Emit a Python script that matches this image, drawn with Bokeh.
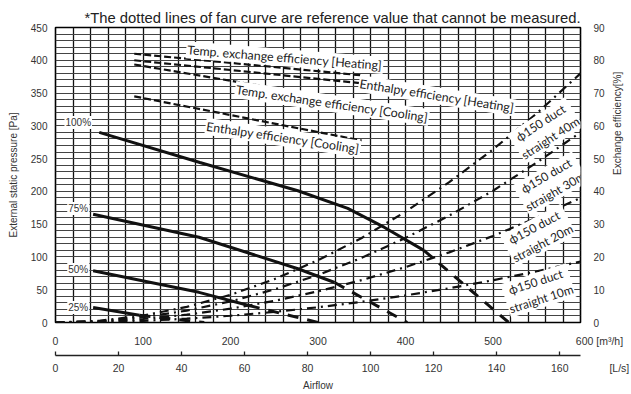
import math
from bokeh.plotting import figure
from bokeh.models import Range1d, LinearAxis, FixedTicker, Label
from bokeh.embed import file_html
from bokeh.resources import INLINE

# ---------------- data ----------------
# fan curves, external static pressure [Pa] vs airflow [m3/h]
fan100_x = [50, 165, 277, 334, 376, 421]
fan100_y = [290, 244, 201, 174, 145, 110]
fan100_ext_x = [421, 518]
fan100_ext_y = [110, 0]

fan75_x = [43, 164, 277, 319]
fan75_y = [165, 130, 82, 61]
fan75_ext_x = [319, 402]
fan75_ext_y = [61, 0]

fan50_x = [43, 164, 221]
fan50_y = [79, 46, 26]
fan50_ext_x = [221, 300]
fan50_ext_y = [26, 0]

fan25_x = [43, 96]
fan25_y = [23, 11]
fan25_ext_x = [96, 170]
fan25_ext_y = [11, 0]

fan_labels = ["100%", "75%", "50%", "25%"]
fan_label_x = [26, 26, 26, 26]
fan_label_y = [305, 174, 81, 23]

# exchange efficiency [%] vs airflow [m3/h]
eff_x = [90, 350]
temp_heat = [82, 75.4]
enth_heat = [80, 73]
temp_cool = [78.7, 67]
enth_cool = [69, 55.5]

eff_names = ["Temp. exchange efficiency [Heating]", "Enthalpy efficiency [Heating]",
             "Temp. exchange efficiency [Cooling]", "Enthalpy efficiency [Cooling]"]
eff_label_x = [262, 436, 316, 260]
eff_label_y = [404, 346, 334, 282]
eff_label_angle = [-4.6, -9, -8.3, -8.5]

# duct resistance curves, pressure [Pa] vs airflow [m3/h]
duct_x = [0, 50, 100, 150, 200, 250, 300, 350, 400, 450, 500, 550, 600]
duct40 = [0, 2.6, 10.6, 23.8, 42.2, 66, 95, 129, 169, 214, 264, 319, 380]
duct30 = [0, 2.0, 8.1, 18.1, 32.2, 50.4, 72.5, 98.7, 129, 163, 201, 244, 290]
duct20 = [0, 1.3, 5.3, 11.9, 21.1, 33, 47.5, 64.7, 84.5, 107, 132, 160, 190]
duct10 = [0, 0.6, 2.6, 5.8, 10.3, 16.1, 23.2, 31.6, 41.3, 52.2, 64.5, 78, 93]

duct_names = ["\u03d5150 duct\nstraight 40m", "\u03d5150 duct\nstraight 30m",
              "\u03d5150 duct\nstraight 20m", "\u03d5150 duct\nstraight 10m"]
duct_label_x = [560, 566, 552, 552]
duct_label_y = [293, 212, 133, 49]
duct_label_angle = [33, 30, 28, 18]

x_ticks_m3h = [0, 100, 200, 300, 400, 500, 600]
x_ticks_ls = [0, 20, 40, 60, 80, 100, 120, 140, 160]
y_ticks_pa = [0, 50, 100, 150, 200, 250, 300, 350, 400, 450]
y_ticks_eff = [0, 10, 20, 30, 40, 50, 60, 70, 80, 90]

unit_m3h = "[m\u00b3/h]"
unit_ls = "[L/s]"

NOTE = "*The dotted lines of fan curve are reference value that cannot be measured."
NB = "\u00a0"

# ---------------- figure ----------------
p = figure(width=631, height=394, output_backend="svg", toolbar_location=None,
           x_range=Range1d(0, 600), y_range=Range1d(0, 450), title=NOTE,
           min_border_left=55, min_border_right=46, min_border_top=27,
           min_border_bottom=72)
p.extra_y_ranges = {"eff": Range1d(0, 90)}
p.extra_x_ranges = {"ls": Range1d(0, 600 / 3.6)}

p.background_fill_color = "white"
p.border_fill_color = "white"
p.outline_line_color = "black"
p.outline_line_width = 1.6

TICK_FONT = "Liberation Sans"
TICK_COLOR = "#333333"

p.title.align = "right"
p.title.text_font = TICK_FONT
p.title.text_font_size = "14.8px"
p.title.text_font_style = "normal"
p.title.text_color = "#222222"
p.title.standoff = 3

# grid
p.xgrid.ticker = FixedTicker(ticks=list(range(0, 601, 20)))
p.ygrid.ticker = FixedTicker(ticks=list(range(0, 451, 10)))
p.xgrid.grid_line_color = "#111111"
p.xgrid.grid_line_width = 1.3
p.ygrid.grid_line_color = "#444444"
p.ygrid.grid_line_width = 1

# left axis
ya = p.yaxis[0]
ya.ticker = FixedTicker(ticks=y_ticks_pa)
ya.major_tick_in = 0
ya.major_tick_out = 0
ya.minor_tick_in = 0
ya.minor_tick_out = 0
ya.axis_line_color = None
ya.major_label_standoff = 8
ya.major_label_text_font = TICK_FONT
ya.major_label_text_font_size = "10px"
ya.major_label_text_color = TICK_COLOR
ya.axis_label = "External static pressure [Pa]"
ya.axis_label_standoff = 9
ya.axis_label_text_font = TICK_FONT
ya.axis_label_text_font_size = "10px"
ya.axis_label_text_font_style = "normal"
ya.axis_label_text_color = TICK_COLOR

# right axis
ra = LinearAxis(y_range_name="eff", ticker=FixedTicker(ticks=y_ticks_eff))
ra.major_tick_in = 0
ra.major_tick_out = 0
ra.minor_tick_in = 0
ra.minor_tick_out = 0
ra.axis_line_color = None
ra.major_label_standoff = 13
ra.major_label_text_font = TICK_FONT
ra.major_label_text_font_size = "10px"
ra.major_label_text_color = TICK_COLOR
ra.axis_label = "Exchange efficiency[%]"
ra.axis_label_standoff = 10
ra.axis_label_text_font = TICK_FONT
ra.axis_label_text_font_size = "10px"
ra.axis_label_text_font_style = "normal"
ra.axis_label_text_color = TICK_COLOR
try:
    ra.axis_label_orientation = math.pi / 2
except Exception:
    pass
p.add_layout(ra, "right")

# bottom axis 1 (m3/h); the unit is appended to the last tick label
xa = p.xaxis[0]
xa.ticker = FixedTicker(ticks=x_ticks_m3h)
xa.major_tick_in = 0
xa.major_tick_out = 0
xa.minor_tick_in = 0
xa.minor_tick_out = 0
xa.axis_line_color = None
xa.major_label_standoff = 12
xa.major_label_text_font = TICK_FONT
xa.major_label_text_font_size = "10.5px"
xa.major_label_text_color = TICK_COLOR
xa.major_label_overrides = {x_ticks_m3h[-1]: NB * 13 + str(x_ticks_m3h[-1]) + NB + unit_m3h}
# a tiny blank axis label adds a little space between these labels and the L/s axis line
xa.axis_label = NB
xa.axis_label_standoff = 0
xa.axis_label_text_font_size = "3px"

# bottom axis 2 (L/s); the unit is appended to the last tick label
xb = LinearAxis(x_range_name="ls", ticker=FixedTicker(ticks=x_ticks_ls))
xb.major_tick_in = 4
xb.major_tick_out = 0
xb.minor_tick_in = 0
xb.minor_tick_out = 0
xb.axis_line_color = "#222222"
xb.axis_line_width = 1.3
xb.major_tick_line_color = "#222222"
xb.major_tick_line_width = 1.3
xb.major_label_standoff = 6
xb.major_label_text_font = TICK_FONT
xb.major_label_text_font_size = "10.5px"
xb.major_label_text_color = TICK_COLOR
xb.major_label_overrides = {x_ticks_ls[-1]: NB * 21 + str(x_ticks_ls[-1]) + NB * 14 + unit_ls}
xb.axis_label = "Airflow"
xb.axis_label_standoff = 3
xb.axis_label_text_font = TICK_FONT
xb.axis_label_text_font_size = "10px"
xb.axis_label_text_font_style = "normal"
xb.axis_label_text_color = TICK_COLOR
p.add_layout(xb, "below")

# ---------------- curves ----------------
for ys in (duct40, duct30, duct20, duct10):
    p.line(duct_x, ys, line_color="#111111", line_width=2.2, line_dash="9 5 2 5")

for ys in (temp_heat, enth_heat, temp_cool, enth_cool):
    p.line(eff_x, ys, y_range_name="eff", line_color="#111111", line_width=2.2,
           line_dash="7 3")

for xs, ys, ex, ey in ((fan100_x, fan100_y, fan100_ext_x, fan100_ext_y),
                       (fan75_x, fan75_y, fan75_ext_x, fan75_ext_y),
                       (fan50_x, fan50_y, fan50_ext_x, fan50_ext_y),
                       (fan25_x, fan25_y, fan25_ext_x, fan25_ext_y)):
    p.line(xs, ys, line_color="#111111", line_width=3)
    p.line(ex, ey, line_color="#111111", line_width=3, line_dash="11 9")

# ---------------- labels ----------------
for t, x, y in zip(fan_labels, fan_label_x, fan_label_y):
    p.add_layout(Label(x=x, y=y, text=t, text_align="center", text_baseline="middle",
                       text_font=TICK_FONT, text_font_size="10px", text_color=TICK_COLOR,
                       background_fill_color="white", padding=1))

for t, x, y, a in zip(eff_names, eff_label_x, eff_label_y, eff_label_angle):
    p.add_layout(Label(x=x, y=y, text=t, angle=a, angle_units="deg",
                       text_align="center", text_baseline="middle",
                       text_font="Lato", text_font_size="12.4px", text_color="#222222",
                       background_fill_color="white", padding=1))

for t, x, y, a in zip(duct_names, duct_label_x, duct_label_y, duct_label_angle):
    p.add_layout(Label(x=x, y=y, text=t, angle=a, angle_units="deg",
                       text_align="center", text_baseline="middle",
                       text_font="Lato", text_font_size="12px", text_color="#222222",
                       text_line_height=1.2,
                       background_fill_color="white", padding=1))

open("out.html", "w").write(file_html(p, INLINE))
